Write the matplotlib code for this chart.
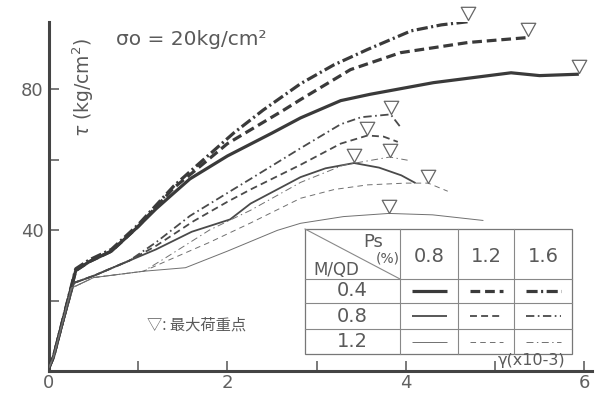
import matplotlib
matplotlib.use('Agg')
import matplotlib.pyplot as plt
from matplotlib.path import Path
from matplotlib.patches import Rectangle

plt.rcParams['font.family'] = ['DejaVu Sans']
plt.rcParams['lines.scale_dashes'] = False

# ---------------- data (gamma x1e-3, tau kg/cm2) ----------------
# M/QD = 0.4
x_04_08 = [0, 0.05, 0.3, 0.45, 0.7, 1.0, 1.2, 1.4, 1.58, 2.0, 2.5, 2.82, 3.27, 3.6, 4.31, 5.18, 5.5, 5.94]
y_04_08 = [1, 4, 28.5, 31, 34, 41, 46, 50.5, 54.5, 61, 67.5, 71.8, 76.7, 78.5, 81.8, 84.6, 83.8, 84.2]
x_04_12 = [0, 0.05, 0.3, 0.45, 0.7, 1.0, 1.2, 1.4, 1.62, 2.0, 2.63, 2.82, 3.38, 3.94, 4.7, 5.37]
y_04_12 = [1, 4, 28.5, 31, 34, 41, 46.5, 52, 56.5, 64.5, 74, 77, 85.5, 90.3, 93.2, 94.6]
x_04_16 = [0, 0.05, 0.3, 0.45, 0.7, 1.0, 1.2, 1.4, 1.6, 2.07, 2.4, 2.82, 3.19, 3.57, 4.06, 4.4, 4.7]
y_04_16 = [1, 4, 29, 31.5, 34.5, 41.5, 47, 52.5, 57, 67.5, 74, 81.5, 86.8, 91.2, 96.5, 98.2, 99.1]
# M/QD = 0.8
x_08_08 = [0, 0.05, 0.28, 0.5, 0.9, 1.2, 1.6, 2.03, 2.26, 2.82, 3.1, 3.42, 3.7, 3.95, 4.11]
y_08_08 = [1, 4, 25, 27, 31.3, 34.5, 39.5, 43, 47.5, 55, 57.5, 59, 57.7, 55.5, 53.3]
x_08_12 = [0, 0.05, 0.28, 0.5, 0.9, 1.2, 1.62, 2.0, 2.26, 2.82, 3.27, 3.57, 3.75, 3.91]
y_08_12 = [1, 4, 25, 27, 31.3, 35.5, 42.5, 48, 51.5, 58.5, 64.5, 66.8, 66.5, 65]
x_08_16 = [0, 0.05, 0.28, 0.5, 0.9, 1.2, 1.58, 2.0, 2.26, 2.82, 3.27, 3.5, 3.83, 3.94]
y_08_16 = [1, 4, 25, 27, 31.3, 36.5, 44, 50.5, 54.5, 63.2, 70, 72, 72.8, 69.2]
# M/QD = 1.2
x_12_08 = [0, 0.05, 0.25, 0.5, 1.06, 1.53, 2.0, 2.56, 2.82, 3.3, 3.81, 4.3, 4.87]
y_12_08 = [1, 4, 23.5, 26.5, 28.3, 29.3, 34, 39.9, 41.9, 43.8, 44.7, 44.3, 42.7]
x_12_12 = [0, 0.05, 0.25, 0.5, 1.06, 1.3, 1.8, 2.26, 2.82, 3.2, 3.57, 4.0, 4.25, 4.47]
y_12_12 = [1, 4, 23.5, 26.5, 28.3, 31, 36.5, 42, 49, 51.5, 52.8, 53.3, 53.3, 51]
x_12_16 = [0, 0.05, 0.25, 0.5, 1.06, 1.3, 1.8, 2.26, 2.82, 3.3, 3.82, 4.02]
y_12_16 = [1, 4, 23.5, 26.5, 28.3, 32, 40, 45.6, 53.5, 58.4, 60.7, 59.8]

# maximum-load points (order: 0.4/0.8, 0.4/1.2, 0.4/1.6, 0.8/..., 1.2/...)
peak_x = [5.94, 5.37, 4.70, 3.42, 3.57, 3.83, 3.81, 4.25, 3.82]
peak_y = [84.6, 94.9, 99.5, 59.2, 66.9, 73.0, 44.8, 53.4, 60.8]

mqd_labels = ['0.4', '0.8', '1.2']
ps_labels = ['0.8', '1.2', '1.6']
x_ticks = [0, 1, 2, 3, 4, 5, 6]
x_ticklabels = ['0', '', '2', '', '4', '', '6']
y_ticks = [20, 40, 60, 80]
y_ticklabels = ['', '40', '', '80']

series = [
    (x_04_08, y_04_08), (x_04_12, y_04_12), (x_04_16, y_04_16),
    (x_08_08, y_08_08), (x_08_12, y_08_12), (x_08_16, y_08_16),
    (x_12_08, y_12_08), (x_12_12, y_12_12), (x_12_16, y_12_16),
]

# ---------------- styles ----------------
lw_by_mqd = [2.3, 1.3, 0.7]
col_by_mqd = ['#3a3a3a', '#4a4a4a', '#707070']
ls_by_ps = {
    0: '-',
    1: {0: (0, (7, 3.5)), 1: (0, (5, 3)), 2: (0, (4, 3))},
    2: {0: (0, (8, 2.5, 1.5, 2.5)), 1: (0, (6, 2.5, 1.2, 2.5)), 2: (0, (5, 2.5, 1, 2.5))},
}

def style(i_mqd, i_ps):
    ls = ls_by_ps[i_ps] if i_ps == 0 else ls_by_ps[i_ps][i_mqd]
    return dict(color=col_by_mqd[i_mqd], lw=lw_by_mqd[i_mqd], ls=ls,
                solid_capstyle='butt', dash_capstyle='butt')

W, H = 598, 394
fig = plt.figure(figsize=(W / 100, H / 100), dpi=100)
ax = fig.add_axes([49 / W, 23 / H, 543 / W, 349 / H])
ax.set_xlim(0, 543 / 89.2)
ax.set_ylim(0, 349 / 3.525)

for k, (xs, ys) in enumerate(series):
    ax.plot(xs, ys, **style(k // 3, k % 3), zorder=3)

tri = Path([(-0.55, 1.0), (0.55, 1.0), (0.0, 0.0), (-0.55, 1.0)],
           [Path.MOVETO, Path.LINETO, Path.LINETO, Path.CLOSEPOLY])
ax.plot(peak_x, peak_y, ls='none', marker=tri, markersize=19,
        markerfacecolor='none', markeredgecolor='#666666', markeredgewidth=0.9,
        clip_on=False, zorder=4)

for s in ['top', 'right']:
    ax.spines[s].set_visible(False)
for s in ['left', 'bottom']:
    ax.spines[s].set_linewidth(2.2)
    ax.spines[s].set_color('#444444')
ax.set_xticks(x_ticks)
ax.set_xticklabels(x_ticklabels)
ax.set_yticks(y_ticks)
ax.set_yticklabels(y_ticklabels)
ax.tick_params(direction='in', length=7, width=1.1, colors='#555555',
               labelsize=13, pad=4, labelcolor='#606060')
ax.tick_params(axis='x', pad=2)

# ---------------- overlay in pixel coords for text & legend table ----------------
ov = fig.add_axes([0, 0, 1, 1], zorder=5)
ov.set_xlim(0, W)
ov.set_ylim(H, 0)
ov.axis('off')
tc = '#5a5a5a'

ov.text(83, 88, r'$\tau$ (kg/cm$^2$)', rotation=90, ha='center', va='center',
        fontsize=13.5, color=tc)
ov.text(116, 39, 'σo = 20kg/cm²', ha='left', va='center', fontsize=14.5, color=tc)
ov.text(147, 325, '▽: 最大荷重点', ha='left', va='center', fontsize=11, color=tc,
        family=['Noto Sans CJK JP', 'DejaVu Sans'])
ov.text(498, 361, 'γ(x10-3)', ha='left', va='center', fontsize=11.5, color=tc)

# table
tl, tr, tt, tb = 305, 572, 229, 354
cols = [tl, 400, 458, 514, tr]
rows = [tt, 279, 303, 329, tb]
ov.add_patch(Rectangle((tl, tt), tr - tl, tb - tt, facecolor='white',
                       edgecolor='#777777', lw=0.9))
lc = '#888888'
for cx in cols[1:-1]:
    ov.plot([cx, cx], [tt, tb], color=lc, lw=0.8)
for ry in rows[1:-1]:
    ov.plot([tl, tr], [ry, ry], color=lc, lw=0.8)
ov.plot([tl, cols[1]], [tt, rows[1]], color=lc, lw=0.8)
ov.text(373, 242, 'Ps', ha='center', va='center', fontsize=13, color=tc)
ov.text(388, 259, '(%)', ha='center', va='center', fontsize=10, color=tc)
ov.text(336, 270, 'M/QD', ha='center', va='center', fontsize=12, color=tc)
for j, lab in enumerate(ps_labels):
    ov.text((cols[j + 1] + cols[j + 2]) / 2, 257, lab, ha='center', va='center',
            fontsize=14, color=tc)
for i, lab in enumerate(mqd_labels):
    yc = (rows[i + 1] + rows[i + 2]) / 2
    ov.text((cols[0] + cols[1]) / 2, yc, lab, ha='center', va='center',
            fontsize=14, color=tc)
    for j in range(3):
        x0 = cols[j + 1] + 12
        x1 = cols[j + 2] - 11
        ov.plot([x0, x1], [yc, yc], **style(i, j))

fig.savefig('out.png', dpi=100)
